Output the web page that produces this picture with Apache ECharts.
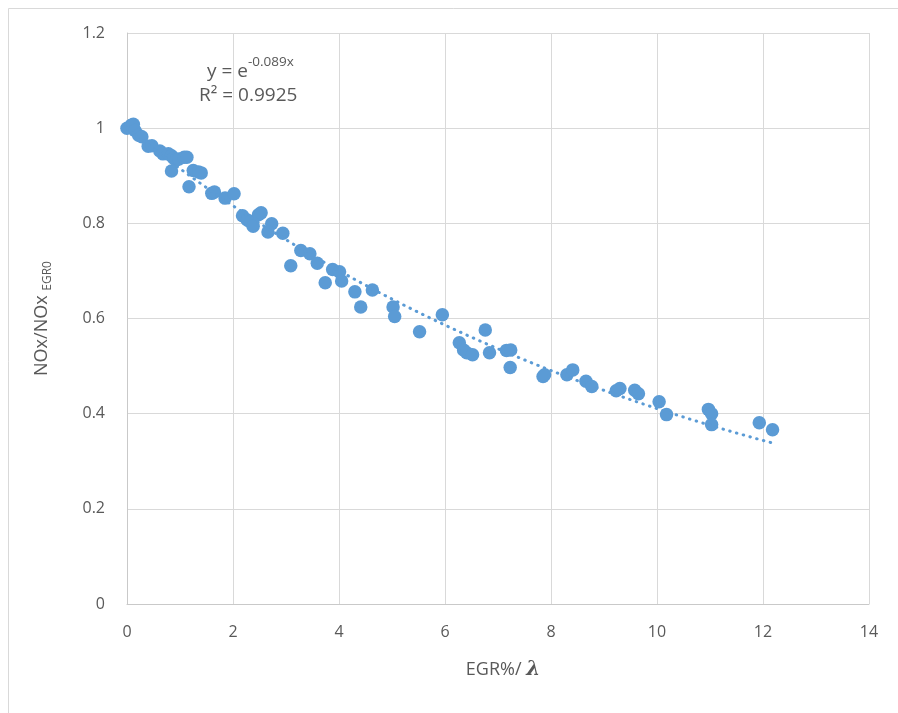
<!DOCTYPE html>
<html>
<head>
<meta charset="utf-8">
<script src="https://cdn.jsdelivr.net/npm/echarts@6/dist/echarts.min.js"></script>
<style>
  html, body { margin: 0; padding: 0; background: #fff; }
  #chart { width: 898px; height: 713px; }
</style>
</head>
<body>
<div id="chart"></div>
<script>
// Measured points: EGR%/λ against normalised NOx
const egrLambda = [0.00, 0.08, 0.12, 0.15, 0.22, 0.28, 0.40, 0.47, 0.62, 0.68, 0.78, 0.84, 0.88, 0.93, 0.98, 1.08, 1.13,
  0.84, 1.25, 1.35, 1.40, 1.17, 1.60, 1.65, 1.85, 2.02, 2.18, 2.27, 2.33, 2.38, 2.48, 2.53, 2.73, 2.66, 2.94,
  3.28, 3.45, 3.09, 3.59, 3.88, 4.01, 3.74, 4.05, 4.30, 4.63, 4.41, 5.02, 5.05, 5.52, 5.95, 6.76, 6.27, 6.35,
  6.41, 6.52, 6.84, 7.16, 7.24, 7.23, 7.85, 7.88, 8.30, 8.41, 8.66, 8.77, 9.23, 9.30, 9.58, 9.65, 10.04, 10.18,
  10.97, 11.03, 11.03, 11.93, 12.18];
const noxRatio = [1.000, 1.006, 1.008, 0.995, 0.985, 0.982, 0.962, 0.963, 0.952, 0.946, 0.946, 0.942, 0.937, 0.933, 0.935, 0.939, 0.939,
  0.910, 0.911, 0.908, 0.906, 0.877, 0.863, 0.866, 0.853, 0.862, 0.816, 0.807, 0.803, 0.794, 0.818, 0.822, 0.799, 0.782, 0.779,
  0.743, 0.736, 0.711, 0.716, 0.703, 0.698, 0.675, 0.679, 0.656, 0.660, 0.624, 0.624, 0.604, 0.572, 0.608, 0.576, 0.549, 0.534,
  0.528, 0.524, 0.528, 0.533, 0.534, 0.497, 0.478, 0.482, 0.482, 0.492, 0.468, 0.457, 0.448, 0.453, 0.449, 0.442, 0.425, 0.398,
  0.409, 0.400, 0.377, 0.381, 0.366];

// Exponential fit y = e^(k x) and its quality
const fitK = -0.089;
const fitR2 = '0.9925';

const xTicks = { min: 0, max: 14, step: 2 };
const yTicks = { min: 0, max: 1.2, step: 0.2 };

const points = egrLambda.map((x, i) => [x, noxRatio[i]]);

// Trend line across the measured range
const xMaxData = Math.max(...egrLambda);
const trend = [];
for (let i = 0; i <= 100; i++) {
  const x = xMaxData * i / 100;
  trend.push([x, Math.exp(fitK * x)]);
}

const blue = '#5B9BD5';
const textGrey = '#595959';
const fontFam = '"Open Sans", "Liberation Sans", sans-serif';

const chart = echarts.init(document.getElementById('chart'), null, { renderer: 'canvas' });
chart.setOption({
  animation: false,
  backgroundColor: '#ffffff',
  grid: { left: 127, right: 29, top: 33, bottom: 109, containLabel: false },
  xAxis: {
    type: 'value',
    min: xTicks.min, max: xTicks.max, interval: xTicks.step,
    name: '{t|EGR%/ }{l|λ}',
    nameLocation: 'middle',
    nameGap: 56,
    nameTextStyle: {
      padding: [0, 0, 0, 10],
      rich: {
        t: { fontSize: 18, color: textGrey, fontFamily: fontFam },
        l: { fontSize: 20, color: textGrey, fontFamily: '"DejaVu Serif", serif', fontStyle: 'italic', fontWeight: 'bold' }
      }
    },
    axisLine: { show: true, lineStyle: { color: '#c9c9c9', width: 1 } },
    axisTick: { show: false },
    axisLabel: { margin: 20, color: textGrey, fontSize: 16, fontFamily: fontFam },
    splitLine: { show: true, lineStyle: { color: '#d9d9d9', width: 1 } }
  },
  yAxis: {
    type: 'value',
    min: yTicks.min, max: yTicks.max, interval: yTicks.step,
    name: '{t|NOx/NOx }{s|EGR0}',
    nameLocation: 'middle',
    nameRotate: 90,
    nameGap: 76,
    nameTextStyle: {
      rich: {
        t: { fontSize: 18, color: textGrey, fontFamily: fontFam, verticalAlign: 'bottom', lineHeight: 24 },
        s: { fontSize: 12, color: textGrey, fontFamily: fontFam, verticalAlign: 'bottom', lineHeight: 24, padding: [0, 0, -3, 0] }
      }
    },
    axisLine: { show: true, lineStyle: { color: '#c9c9c9', width: 1 } },
    axisTick: { show: false },
    axisLabel: { margin: 22, color: textGrey, fontSize: 16, fontFamily: fontFam },
    splitLine: { show: true, lineStyle: { color: '#d9d9d9', width: 1 } }
  },
  graphic: [
    {
      type: 'rect',
      silent: true,
      shape: { x: 8.5, y: 8.5, width: 910, height: 720 },
      style: { fill: 'none', stroke: '#d9d9d9', lineWidth: 1 },
      z: -10
    },
    {
      type: 'text',
      left: 207, top: 55,
      style: {
        text: '{a|y = e}{b|' + String(fitK) + 'x}',
        rich: {
          a: { fontSize: 19, fill: textGrey, fontFamily: fontFam, verticalAlign: 'bottom', lineHeight: 26 },
          b: { fontSize: 13.5, fill: textGrey, fontFamily: fontFam, verticalAlign: 'top', lineHeight: 26 }
        }
      },
      z: 10
    },
    {
      type: 'text',
      left: 199, top: 86,
      style: {
        text: 'R² = ' + fitR2,
        fontSize: 19, fill: textGrey, fontFamily: fontFam
      },
      z: 10
    }
  ],
  series: [
    {
      type: 'scatter',
      data: points,
      symbol: 'circle',
      symbolSize: 13.5,
      itemStyle: { color: blue, opacity: 1 },
      z: 2
    },
    {
      type: 'line',
      data: trend,
      showSymbol: false,
      smooth: false,
      lineStyle: { color: blue, width: 3, type: [0.5, 6.5], cap: 'round' },
      z: 3
    }
  ]
});
</script>
</body>
</html>
